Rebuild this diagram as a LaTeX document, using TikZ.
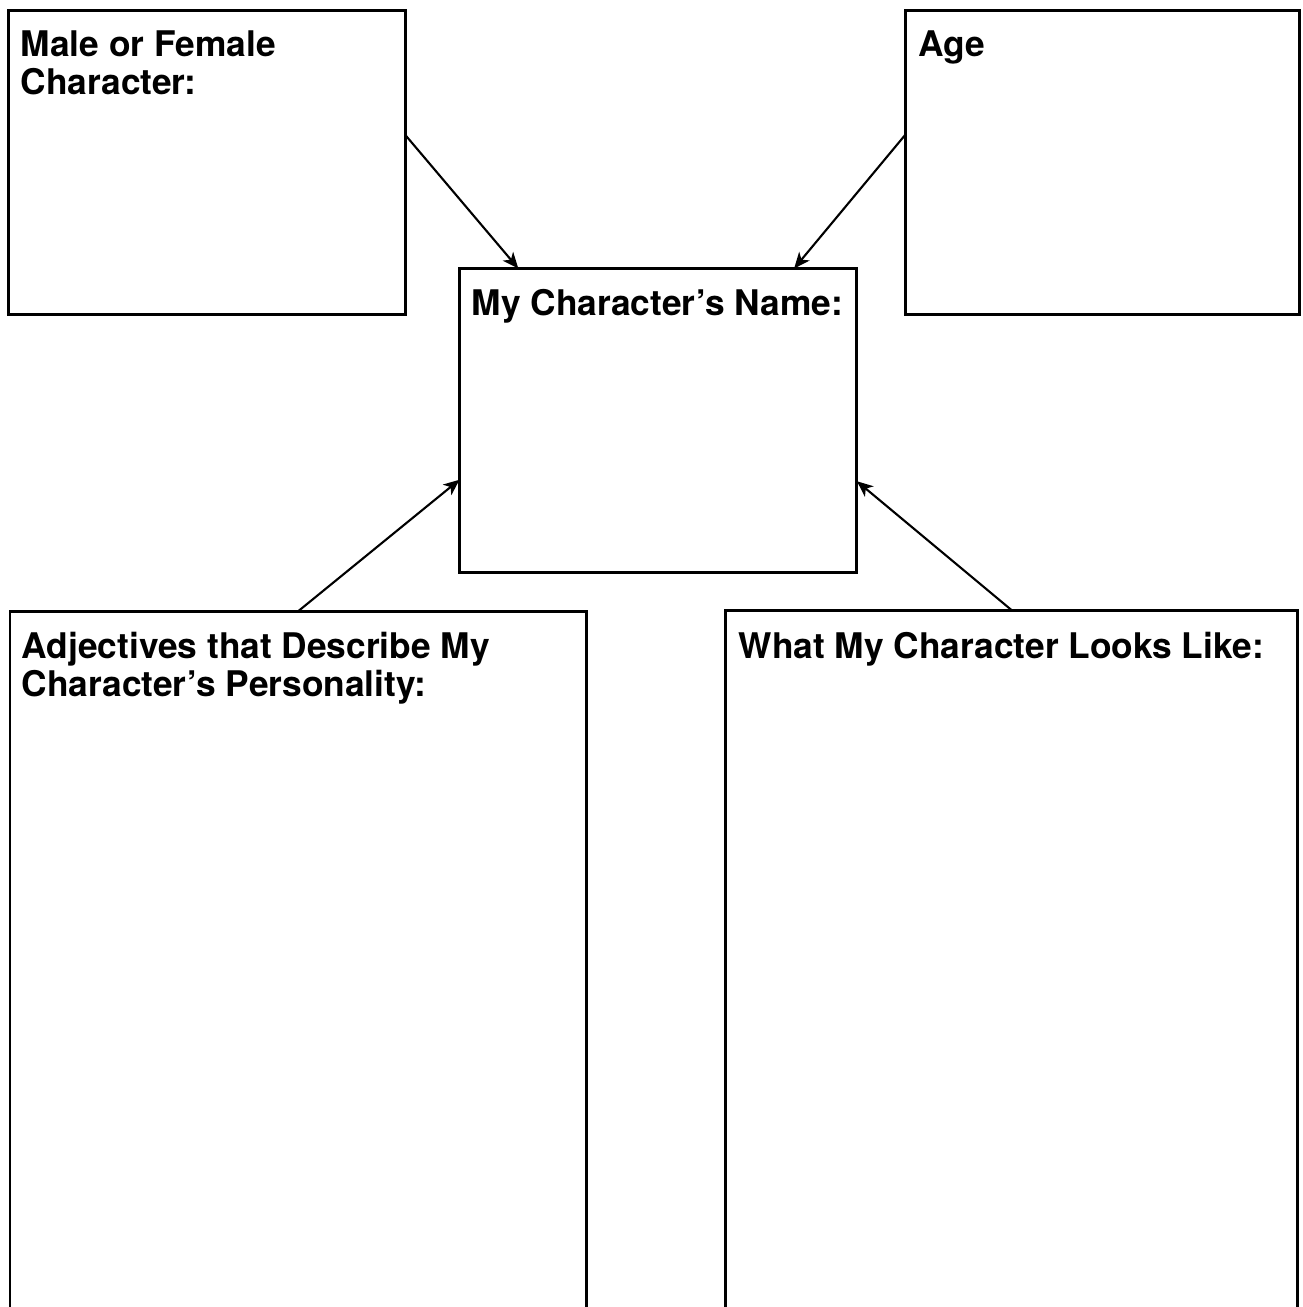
\documentclass[tikz,border=0pt]{standalone}
\usepackage{fontspec}
\setmainfont{TeX Gyre Heros}
\usepackage{tikz}
\usetikzlibrary{arrows.meta, calc}
\tikzstyle{panel} = [rectangle, draw, line width=0.06cm, anchor=north west,
    inner sep=0pt, outer sep=0pt]
\tikzstyle{heading} = [anchor=north west, inner sep=0pt, align=left,
    font=\bfseries\fontsize{20.1}{21.6}\selectfont]
\tikzstyle{line} = [draw, line width=0.042cm,
    -{Stealth[length=0.32cm, width=0.27cm, inset=0.09cm]}]

\begin{document}
\begin{tikzpicture}[x=0.02cm, y=-0.02cm]
    \useasboundingbox (0,0) rectangle (1302,1307);
    \clip (0,0) rectangle (1302,1307);
    % Boxes
    \node[panel, minimum width=7.94cm, minimum height=6.08cm] (gender) at (8.5,10.5) {};
    \node[panel, minimum width=7.9cm, minimum height=6.08cm] (age) at (905,10.5) {};
    \node[panel, minimum width=7.95cm, minimum height=6.08cm] (name) at (459.5,268.5) {};
    \node[panel, minimum width=11.54cm, minimum height=14.5cm] (traits) at (10,611) {};
    \node[panel, minimum width=11.46cm, minimum height=14.5cm] (looks) at (725,610) {};

    % Headings
    \node[heading, xshift=0.24cm, yshift=-0.39cm] (gendertext) at (gender.north west) {Male or Female\\Character:};
    \node[heading, xshift=0.26cm, yshift=-0.39cm] (agetext) at (age.north west) {Age};
    \node[heading, xshift=0.24cm, yshift=-0.41cm] (nametext) at (name.north west) {My Character’s Name:};
    \node[heading, xshift=0.23cm, yshift=-0.42cm] (traitstext) at (traits.north west) {Adjectives that Describe My\\Character’s Personality:};
    \node[heading, xshift=0.27cm, yshift=-0.44cm] (lookstext) at (looks.north west) {What My Character Looks Like:};

    % Edges
    \path[line] ($(gender.north east)!0.41!(gender.south east)$) -- ($(name.north west)!0.148!(name.north east)$);
    \path[line] ($(age.north west)!0.41!(age.south west)$) -- ($(name.north west)!0.842!(name.north east)$);
    \path[line] (traits.north) -- ($(name.north west)!0.695!(name.south west)$);
    \path[line] (looks.north) -- ($(name.north east)!0.70!(name.south east)$);
\end{tikzpicture}
\end{document}
